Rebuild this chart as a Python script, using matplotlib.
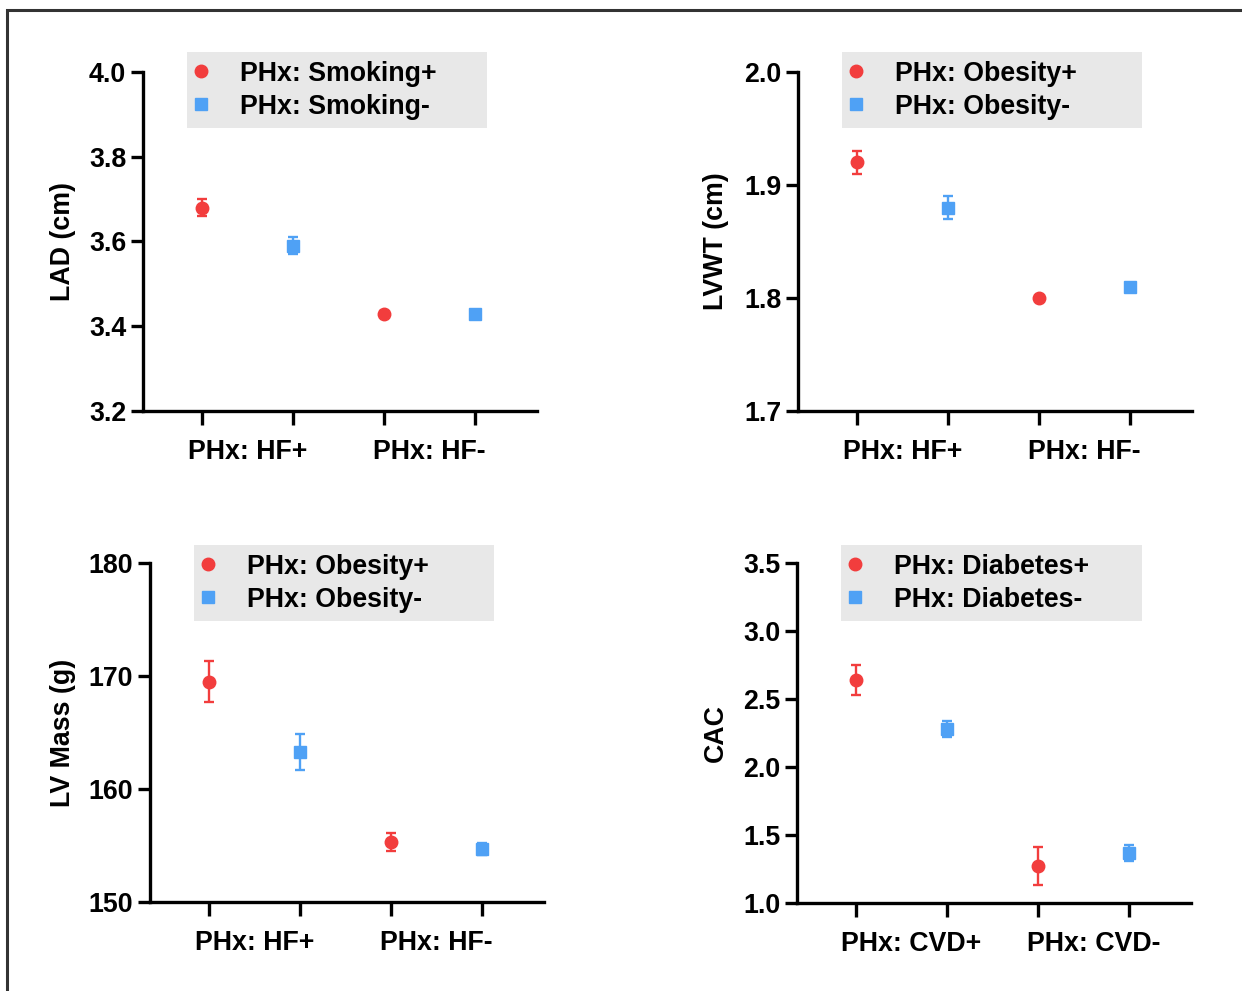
import matplotlib
matplotlib.use("Agg")
from matplotlib import pyplot as plt
from matplotlib.patches import Rectangle
from matplotlib.transforms import ScaledTranslation

plt.rcParams['font.family'] = ['Liberation Sans', 'DejaVu Sans']
plt.rcParams['font.weight'] = 'bold'

RED = '#F23D3D'
BLUE = '#4FA1F5'

# panel data: (pos group, neg group) x (factor+, factor-)
lad_plus = [3.68, 3.43]
lad_plus_err = [0.02, 0.005]
lad_minus = [3.59, 3.43]
lad_minus_err = [0.02, 0.004]

lvwt_plus = [1.92, 1.80]
lvwt_plus_err = [0.01, 0.002]
lvwt_minus = [1.88, 1.81]
lvwt_minus_err = [0.01, 0.002]

lvm_plus = [169.5, 155.3]
lvm_plus_err = [1.8, 0.8]
lvm_minus = [163.3, 154.7]
lvm_minus_err = [1.6, 0.5]

cac_plus = [2.64, 1.27]
cac_plus_err = [0.11, 0.14]
cac_minus = [2.28, 1.37]
cac_minus_err = [0.06, 0.06]

hf_labels = ['PHx: HF+', 'PHx: HF-']
cvd_labels = ['PHx: CVD+', 'PHx: CVD-']

panels = [
    dict(rect=[143, 72, 537, 411], plus=lad_plus, pe=lad_plus_err, minus=lad_minus, me=lad_minus_err,
         leg=['PHx: Smoking+', 'PHx: Smoking-'], groups=hf_labels, ylabel='LAD (cm)', shift=0,
         ylim=(3.2, 4.0), yticks=[3.2, 3.4, 3.6, 3.8, 4.0], fmt='{:.1f}', leg_box=(187, 52, 487)),
    dict(rect=[798, 72, 1192, 411], plus=lvwt_plus, pe=lvwt_plus_err, minus=lvwt_minus, me=lvwt_minus_err,
         leg=['PHx: Obesity+', 'PHx: Obesity-'], groups=hf_labels, ylabel='LVWT (cm)', shift=0,
         ylim=(1.7, 2.0), yticks=[1.7, 1.8, 1.9, 2.0], fmt='{:.1f}', leg_box=(842, 52, 1142)),
    dict(rect=[150, 563, 544, 902], plus=lvm_plus, pe=lvm_plus_err, minus=lvm_minus, me=lvm_minus_err,
         leg=['PHx: Obesity+', 'PHx: Obesity-'], groups=hf_labels, ylabel='LV Mass (g)', shift=0,
         ylim=(150, 180), yticks=[150, 160, 170, 180], fmt='{:.0f}', leg_box=(194, 545, 494)),
    dict(rect=[797, 563, 1191, 903], plus=cac_plus, pe=cac_plus_err, minus=cac_minus, me=cac_minus_err,
         leg=['PHx: Diabetes+', 'PHx: Diabetes-'], groups=cvd_labels, ylabel='CAC', shift=10,
         ylim=(1.0, 3.5), yticks=[1.0, 1.5, 2.0, 2.5, 3.0, 3.5], fmt='{:.1f}', leg_box=(841, 545, 1142)),
]

W, H = 1242, 991
fig = plt.figure(figsize=(W / 100, H / 100), dpi=100)

FS = 19.3

for p in panels:
    x0, y0, x1, y1 = p['rect']
    ax = fig.add_axes([x0 / W, 1 - y1 / H, (x1 - x0) / W, (y1 - y0) / H])
    xp = [0, 2]
    xm = [1, 3]
    ax.errorbar(xp, p['plus'], yerr=p['pe'], fmt='none', ecolor=RED, elinewidth=1.7, capsize=3.8, capthick=1.7)
    ax.errorbar(xm, p['minus'], yerr=p['me'], fmt='none', ecolor=BLUE, elinewidth=1.7, capsize=3.8, capthick=1.7)
    ax.plot(xp, p['plus'], 'o', color=RED, markersize=9, ls='none', label=p['leg'][0])
    ax.plot(xm, p['minus'], 's', color=BLUE, markersize=8, ls='none', label=p['leg'][1])

    ax.set_xlim(-59 / 91, 3 + 62 / 91)
    ax.set_ylim(*p['ylim'])
    for s in ['top', 'right']:
        ax.spines[s].set_visible(False)
    for s in ['left', 'bottom']:
        ax.spines[s].set_linewidth(2.4)
    ax.set_xticks([0, 1, 2, 3])
    ax.set_xticklabels([])
    ax.set_xticks([0.5, 2.5], minor=True)
    ax.set_xticklabels(p['groups'], minor=True, fontsize=FS, fontweight='bold')
    ax.tick_params(axis='x', which='major', length=10, width=2.4)
    ax.tick_params(axis='x', which='minor', length=0, pad=20.5)
    if p['shift']:
        off = ScaledTranslation(p['shift'] / 100, 0, fig.dpi_scale_trans)
        for lab in ax.get_xticklabels(minor=True):
            lab.set_transform(lab.get_transform() + off)
    ax.set_yticks(p['yticks'])
    ax.set_yticklabels([p['fmt'].format(v) for v in p['yticks']], fontsize=FS, fontweight='bold')
    ax.tick_params(axis='y', length=9, width=2.4, pad=3)
    ax.set_ylabel(p['ylabel'], fontsize=FS, fontweight='bold')
    ax.yaxis.set_label_coords((76 - x0) / (x1 - x0) if x0 < 500 else (729 - x0) / (x1 - x0), 0.5)

    lx0, ly0, lx1 = p['leg_box']
    bx = (lx0 - x0) / (x1 - x0)
    bw = (lx1 - lx0) / (x1 - x0)
    by = (y1 - ly0) / (y1 - y0)
    leg = ax.legend(loc='upper left', bbox_to_anchor=(bx, by - 0.3, bw, 0.3), mode='expand',
                    borderaxespad=0, frameon=True, fancybox=False, facecolor='#E8E8E8', edgecolor='none',
                    framealpha=1, handlelength=0.4, handletextpad=1.25, borderpad=0.32,
                    labelspacing=0.27, prop={'weight': 'bold', 'size': FS})
    leg.get_frame().set_linewidth(0)

fig.patches.append(Rectangle((7 / W, -0.1), 1.2, 0.1 + (1 - 10 / H), transform=fig.transFigure,
                             fill=False, edgecolor='#333333', linewidth=2.2))

fig.savefig('out.png', dpi=100)
